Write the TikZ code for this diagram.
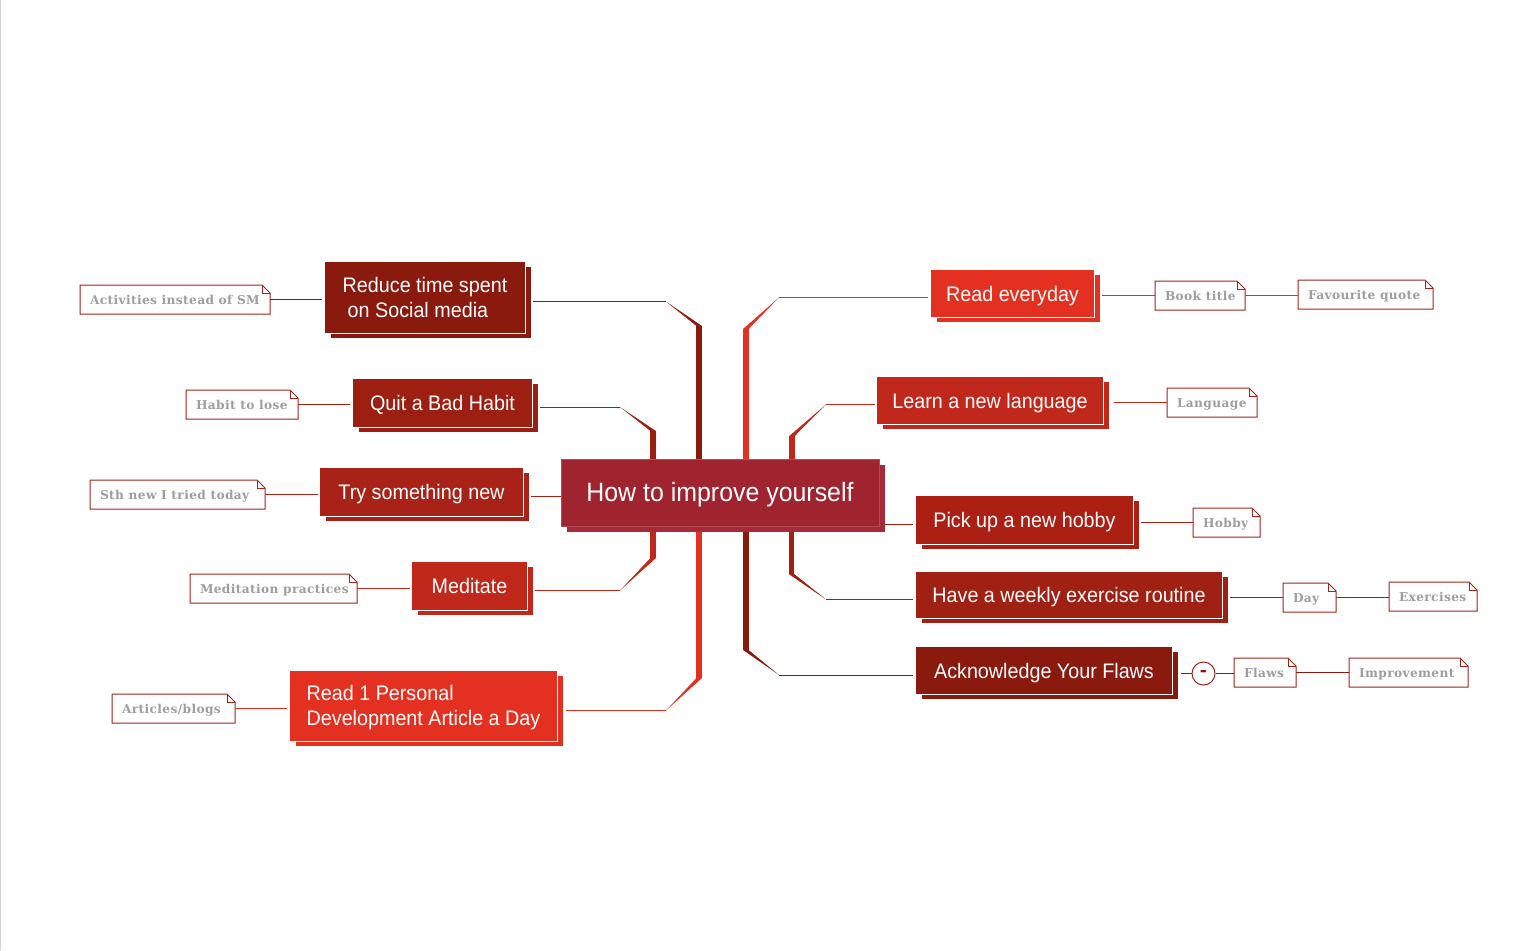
\documentclass[tikz,border=0pt]{standalone}
\usepackage{fontspec}
\setmainfont{Liberation Sans}[FakeStretch=0.94]
\newfontfamily\notefont[LetterSpace=3]{DejaVu Serif}
\newfontfamily\minusfont{DejaVu Sans}
\usetikzlibrary{shadows,backgrounds}
\definecolor{cA}{HTML}{8A1A0E}
\definecolor{cB}{HTML}{9C1F12}
\definecolor{cC}{HTML}{A82217}
\definecolor{cD}{HTML}{C0281C}
\definecolor{cE}{HTML}{E33020}
\definecolor{cF}{HTML}{AC2014}
\definecolor{cG}{HTML}{A02014}
\definecolor{cMain}{HTML}{A0242F}
\definecolor{cMainS}{HTML}{A62A38}
\definecolor{noteText}{HTML}{9E9E9E}
\definecolor{noteLine}{HTML}{A02418}
\tikzset{
  topicbox/.style={rectangle,draw=white,line width=.8pt,outer sep=0pt,inner sep=0pt,text=white,
    font=\fontsize{21}{24.5}\selectfont,align=left,fill=#1,text height=20pt,text depth=5pt,
    copy shadow={draw=none,fill=#1,shadow xshift=6pt,shadow yshift=-5pt}},
  twolines/.style={text height={},text depth={}},
  notebox/.style={rectangle,outer sep=0pt,inner sep=0pt,fill=white,text=noteText,
    text height=9pt,text depth=0pt,
    font=\notefont\bfseries\fontsize{12.2}{14}\selectfont},
  noteedge/.style={draw=noteLine,line width=1pt,line join=miter},
  link/.style={line width=1pt,draw=#1},
  trunk/.style={line width=5.5pt,draw=#1},
  collapse/.style={circle,draw=noteLine,line width=1pt,fill=white,minimum size=23pt,inner sep=0pt,
    text=cA,font=\minusfont\bfseries\fontsize{17}{17}\selectfont}
}
% [options], name, left, top, right, bottom, colour, text
\newcommand{\topicnode}[8][]{%
  \pgfmathsetmacro{\cxv}{(#3+#5)/2}\pgfmathsetmacro{\cyv}{(#4+#6)/2}%
  \pgfmathsetmacro{\wv}{#5-#3+.8}\pgfmathsetmacro{\hv}{#6-#4+.8}%
  \node[topicbox=#7,#1,minimum width=\wv pt,minimum height=\hv pt] (#2) at (\cxv,\cyv) {#8};}
% name, left, top, right, bottom, text
\newcommand{\notenode}[6]{%
  \pgfmathsetmacro{\cxv}{(#2+#4)/2}\pgfmathsetmacro{\cyv}{(#3+#5)/2}%
  \pgfmathsetmacro{\wv}{#4-#2}\pgfmathsetmacro{\hv}{#5-#3}%
  \node[notebox,minimum width=\wv pt,minimum height=\hv pt] (#1) at (\cxv,\cyv) {\makebox[\dimexpr\wv pt-20pt\relax][l]{#6}};
  \draw[noteedge] (#1.north west) -- ([xshift=-8pt]#1.north east) -- ([yshift=-8pt]#1.north east)
    -- (#1.south east) -- (#1.south west) -- cycle;
  \draw[noteedge] ([xshift=-8pt]#1.north east) -- ([xshift=-8pt,yshift=-8pt]#1.north east) -- ([yshift=-8pt]#1.north east);}
% colour, source node anchor, x shift, elbow x, elbow y, trunk x, trunk y
\newcommand{\branch}[7]{%
  \coordinate (elb) at (#4,#5);
  \coordinate (trk) at (#6,#7);
  \draw[link=#1] ([xshift=#3pt]#2 |- elb) -- (elb);
  \fill[#1] (elb) -- ([xshift=-2.75pt]trk) -- ([xshift=2.75pt]trk) -- cycle;
  \draw[trunk=#1] (trk) -- (trk |- center.center);}
\begin{document}
\begin{tikzpicture}[x=1pt,y=-1pt]
\path[use as bounding box] (0,0) rectangle (1536,950);
\begin{scope}[on background layer]
  \fill[white] (0,0) rectangle (1536,950);
  \fill[black!18] (0,0) rectangle (1,950);
\end{scope}

% central topic
\node[rectangle,draw=cMainS!85!white,line width=.8pt,outer sep=0pt,inner sep=0pt,fill=cMain,text=white,
  minimum width=318pt,minimum height=67pt,font=\fontsize{26.5}{30}\selectfont,text height=23pt,text depth=6pt,
  copy shadow={draw=none,fill=cMainS,shadow xshift=6pt,shadow yshift=-6pt}] (center) at (720,492.5) {How to improve yourself};

% main topics
\topicnode[twolines]{reduce}{325}{262}{525}{333}{cA}{Reduce time spent\\\hspace*{5pt}on Social media}
\topicnode{quit}{353}{379}{532}{427}{cB}{Quit a Bad Habit}
\topicnode{try}{320}{468}{523}{516}{cC}{Try something new}
\topicnode{meditate}{412}{562}{527}{610}{cD}{Meditate}
\topicnode[twolines]{readone}{290}{671}{557}{741}{cE}{\rule{0pt}{18pt}Read 1 Personal\\Development Article a Day}
\topicnode{read}{931}{270}{1094}{317}{cE}{Read everyday}
\topicnode{learn}{877}{377}{1103}{424}{cD}{Learn a new language}
\topicnode{pick}{916}{496}{1133}{544}{cF}{Pick up a new hobby}
\topicnode{weekly}{916}{572}{1222}{618}{cG}{Have a weekly exercise routine}
\topicnode{flaws}{916}{647}{1172}{694}{cA}{Acknowledge Your Flaws}

% notes
\notenode{nActivities}{80}{285}{270}{314}{Activities instead of SM}
\notenode{nHabit}{186}{390}{298}{419}{Habit to lose}
\notenode{nSth}{90}{480}{265}{509}{Sth new I tried today}
\notenode{nMeditation}{190}{574}{357}{603}{Meditation practices}
\notenode{nArticles}{112}{694}{235}{723}{Articles/blogs}
\notenode{nBook}{1155}{281}{1245}{310}{Book title}
\notenode{nQuote}{1298}{280}{1433}{309}{Favourite quote}
\notenode{nLanguage}{1167}{388}{1257}{417}{Language}
\notenode{nHobby}{1193}{508}{1260}{537}{Hobby}
\notenode{nDay}{1283}{583}{1336}{612}{Day}
\notenode{nExercises}{1389}{582}{1477}{611}{Exercises}
\notenode{nFlaws}{1234}{658}{1296}{687}{Flaws}
\notenode{nImprovement}{1349}{658}{1468}{687}{Improvement}
\node[collapse] (minus) at (1203.5,673.5) {-};

% branches to the centre
\begin{scope}[on background layer]
  \branch{cA}{reduce.east}{8}{666}{301.5}{699.2}{326}
  \branch{cB}{quit.east}{8}{620}{407}{653.2}{431}
  \branch{cD}{meditate.east}{8}{620}{590.5}{653.2}{558}
  \branch{cE}{readone.east}{9}{666}{710.5}{699.2}{678}
  \branch{cE}{read.west}{-3}{779}{297.5}{745.8}{329}
  \branch{cD}{learn.west}{-2}{826}{404.5}{792}{436}
  \branch{cG}{weekly.west}{-3}{826}{599.5}{791.5}{574}
  \branch{cA}{flaws.west}{-3}{779}{675}{745.8}{650}
  \draw[link=cC] (try.east) ++(8,0) coordinate (tryS) (tryS |- center.west) ++(0,3.5) coordinate (tryL) -- (center.west |- tryL);
  \draw[link=cF] ([xshift=6pt]center.east |- pick.west) ++(0,4) coordinate (pickL) -- ([xshift=-3pt]pick.west |- pickL);
\end{scope}

% note links
\draw[link=cA] ([yshift=.5pt]nActivities.east) -- ([xshift=-3pt,yshift=.5pt]reduce.west |- nActivities.east);
\draw[link=cB] ([yshift=.5pt]nHabit.east) -- ([xshift=-3pt,yshift=.5pt]quit.west |- nHabit.east);
\draw[link=cC] (nSth.east) -- ([xshift=-2pt]try.west |- nSth.east);
\draw[link=cD] (nMeditation.east) -- ([xshift=-2pt]meditate.west |- nMeditation.east);
\draw[link=cE] (nArticles.east) -- ([xshift=-3pt]readone.west |- nArticles.east);
\draw[link=cE] ([xshift=8pt]read.east |- nBook.west) -- (nBook.west);
\draw[link=cE] (nBook.east) -- (nQuote.west |- nBook.east);
\draw[link=cD] ([xshift=11pt]learn.east |- nLanguage.west) -- (nLanguage.west);
\draw[link=cF] ([xshift=8pt]pick.east |- nHobby.west) -- (nHobby.west);
\draw[link=cG] ([xshift=8pt]weekly.east |- nDay.west) -- (nDay.west);
\draw[link=cG] (nDay.east) -- (nExercises.west |- nDay.east);
\draw[link=cA] ([xshift=9pt]flaws.east |- minus.west) -- (minus.west);
\draw[link=cA] (minus.east) -- (nFlaws.west |- minus.east);
\draw[link=cA] (nFlaws.east) -- (nImprovement.west);
\end{tikzpicture}
\end{document}
